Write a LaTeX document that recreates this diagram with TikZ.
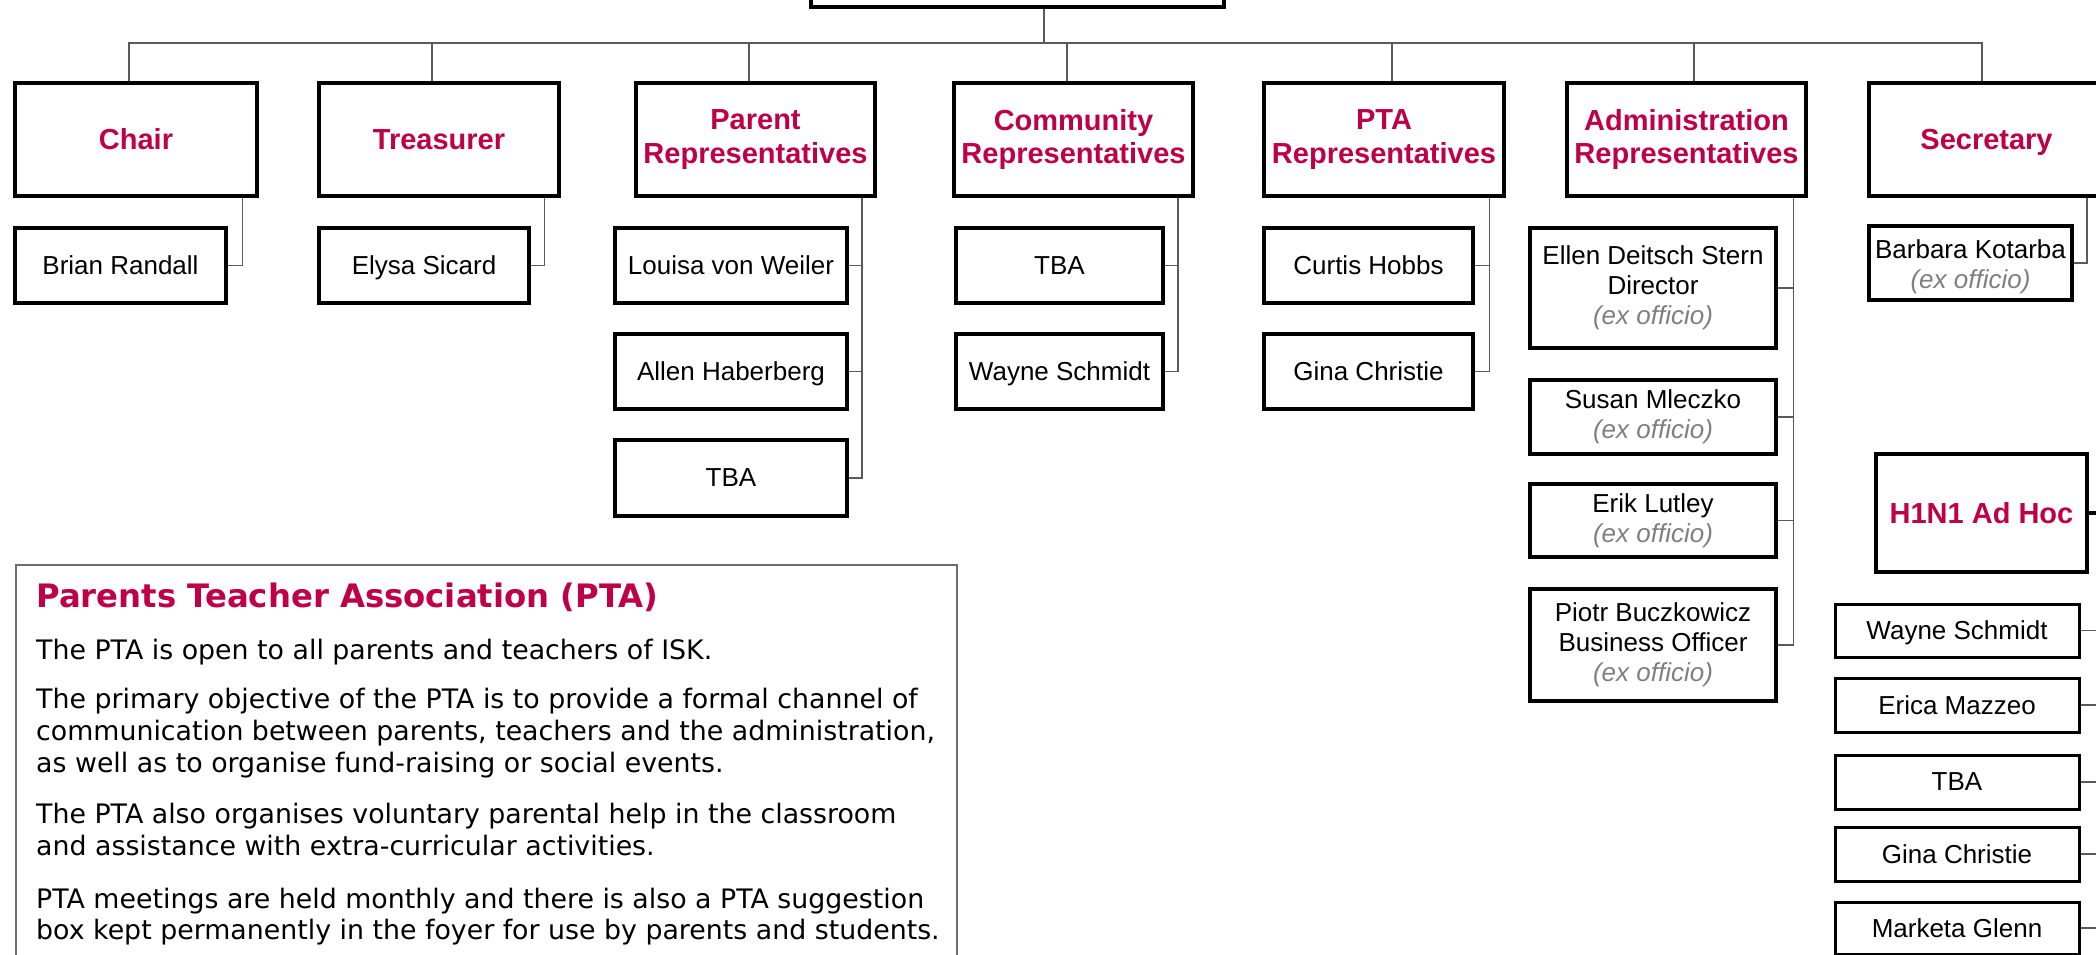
\documentclass[tikz,border=0pt]{standalone}
\usepackage{fontspec}
\setmainfont{Liberation Sans}
\newfontfamily\verd{DejaVu Sans}
\usetikzlibrary{calc}
\definecolor{crim}{RGB}{190,0,72}
\definecolor{conn}{RGB}{90,90,90}
\definecolor{exo}{RGB}{128,128,128}
\definecolor{panelline}{RGB}{110,110,110}
\newcommand\mkbox[7]{\node[#2,minimum width={#5-#3-4},minimum height={#6-#4-4}] (#1) at ({(#3+#5)/2},{(#4+#6)/2}) {#7};}
\newcommand\exo{\textcolor{exo}{\itshape (ex officio)}}
\begin{document}
\begin{tikzpicture}[x=1pt,y=-1pt,
  hdrbox/.style={draw=black,line width=4pt,fill=white,inner sep=0pt,align=center,text=crim,font=\bfseries\fontsize{29}{33.5}\selectfont},
  namebox/.style={draw=black,line width=4pt,fill=white,inner sep=0pt,align=center,font=\fontsize{26}{30}\selectfont},
  subbox/.style={namebox,line width=3pt},
  link/.style={draw=conn,line width=1.3pt},
  ptatitle/.style={anchor=base west,inner sep=0pt,text=crim,font=\verd\bfseries\fontsize{32.3}{38}\selectfont},
  ptatext/.style={anchor=base west,inner sep=0pt,font=\verd\fontsize{26.8}{32}\selectfont}
]
\useasboundingbox (0,0) rectangle (2096,955);
\clip (0,0) rectangle (2096,955);
\fill[white] (0,0) rectangle (2096,955);

% top level
\mkbox{topbox}{namebox}{809}{-100}{1226}{9}{}
\mkbox{chair}{hdrbox}{13}{81}{259}{198}{Chair}
\mkbox{treas}{hdrbox}{317}{81}{561}{198}{Treasurer}
\mkbox{parent}{hdrbox}{634}{81}{877}{198}{Parent\\Representatives}
\mkbox{comm}{hdrbox}{952}{81}{1195}{198}{Community\\Representatives}
\mkbox{pta}{hdrbox}{1262}{81}{1506}{198}{PTA\\Representatives}
\mkbox{admin}{hdrbox}{1565}{81}{1808}{198}{Administration\\Representatives}
\mkbox{sec}{hdrbox}{1867}{81}{2106}{198}{Secretar\smash{y}}

% members
\mkbox{brian}{namebox}{13}{226}{228}{305}{Brian Randall}
\mkbox{elysa}{namebox}{317}{226}{531}{305}{El\smash{y}sa Sicard}
\mkbox{louisa}{namebox}{613}{226}{849}{305}{Louisa von Weiler}
\mkbox{allen}{namebox}{613}{332}{849}{411}{Allen Haberber\smash{g}}
\mkbox{tbap}{namebox}{613}{438}{849}{518}{TBA}
\mkbox{tbac}{namebox}{954}{226}{1165}{305}{TBA}
\mkbox{wayc}{namebox}{954}{332}{1165}{411}{Wa\smash{y}ne Schmidt}
\mkbox{curtis}{namebox}{1262}{226}{1475}{305}{Curtis Hobbs}
\mkbox{ginap}{namebox}{1262}{332}{1475}{411}{Gina Christie}
\mkbox{ellen}{namebox}{1528}{226}{1778}{350}{Ellen Deitsch Stern\\Director\\\exo}
\mkbox{susan}{namebox}{1528}{378}{1778}{456}{Susan Mleczko\\\exo}
\mkbox{erik}{namebox}{1528}{482}{1778}{559}{Erik Lutley\\\exo}
\mkbox{piotr}{namebox}{1528}{587}{1778}{703}{Piotr Buczkowicz\\Business Officer\\\exo}
\mkbox{barb}{namebox}{1867}{224}{2074}{302}{\rule{0pt}{26pt}Barbara Kotarba\\\exo}

% H1N1
\mkbox{h1n1}{hdrbox}{1874}{452}{2089}{574}{H1N1 Ad Hoc}
\mkbox{hw}{subbox}{1833}{602}{2081}{659}{Wa\smash{y}ne Schmidt}
\mkbox{he}{subbox}{1833}{676}{2081}{734}{Erica Mazzeo}
\mkbox{ht}{subbox}{1833}{753}{2081}{811}{TBA}
\mkbox{hg}{subbox}{1833}{825}{2081}{883}{Gina Christie}
\mkbox{hm}{subbox}{1833}{900}{2081}{956}{Marketa Glenn}

% bus
\coordinate (bus) at (0,43);
\coordinate (edgeR) at (2110,0);
\draw[link] ([xshift=26.5pt]topbox.south) -- ([xshift=26.5pt]topbox.south |- bus);
\draw[link] ([xshift=-7pt]chair.north) |- ([xshift=-4.5pt]sec.north |- bus) -- ([xshift=-4.5pt]sec.north);
\draw[link] ([xshift=-7pt]treas.north) -- ([xshift=-7pt]treas.north |- bus);
\draw[link] ([xshift=-6.5pt]parent.north) -- ([xshift=-6.5pt]parent.north |- bus);
\draw[link] ([xshift=-6.5pt]comm.north) -- ([xshift=-6.5pt]comm.north |- bus);
\draw[link] ([xshift=8pt]pta.north) -- ([xshift=8pt]pta.north |- bus);
\draw[link] ([xshift=7.5pt]admin.north) -- ([xshift=7.5pt]admin.north |- bus);

% member links
\draw[link] ([xshift=-16.5pt]chair.south east) |- (brian.east);
\draw[link] ([xshift=-16.3pt]treas.south east) |- (elysa.east);
\foreach \c in {louisa,allen,tbap}{\draw[link] ([xshift=-15pt]parent.south east) |- (\c.east);}
\foreach \c in {tbac,wayc}{\draw[link] ([xshift=-17pt]comm.south east) |- (\c.east);}
\foreach \c in {curtis,ginap}{\draw[link] ([xshift=-16.5pt]pta.south east) |- (\c.east);}
\foreach \c in {ellen,susan,erik,piotr}{\draw[link] ([xshift=-14.3pt]admin.south east) |- (\c.east);}
\draw[link] ([xshift=-19pt]sec.south east) |- (barb.east);
\draw[line width=3.5pt] (h1n1.east) -- (h1n1.east -| edgeR);
\foreach \c in {hw,he,ht,hg,hm}{\draw[link] (\c.east) -- (\c.east -| edgeR);}

% PTA panel
\draw[draw=panelline,line width=1.4pt] (16,565) rectangle (957,1010);
\node[ptatitle] (t0) at (36,607) {Parents Teacher Association (PTA)};
\node[ptatext] (t1) at (36,659) {The PTA is open to all parents and teachers of ISK.};
\node[ptatext] (t2) at (36,708) {The primary objective of the PTA is to provide a formal channel of};
\node[ptatext] (t3) at (36,740) {communication between parents, teachers and the administration,};
\node[ptatext] (t4) at (36,772) {as well as to organise fund-raising or social events.};
\node[ptatext] (t5) at (36,823) {The PTA also organises voluntary parental help in the classroom};
\node[ptatext] (t6) at (36,855) {and assistance with extra-curricular activities.};
\node[ptatext] (t7) at (36,908) {PTA meetings are held monthly and there is also a PTA suggestion};
\node[ptatext] (t8) at (36,939) {box kept permanently in the foyer for use by parents and students.};
\end{tikzpicture}
\end{document}
